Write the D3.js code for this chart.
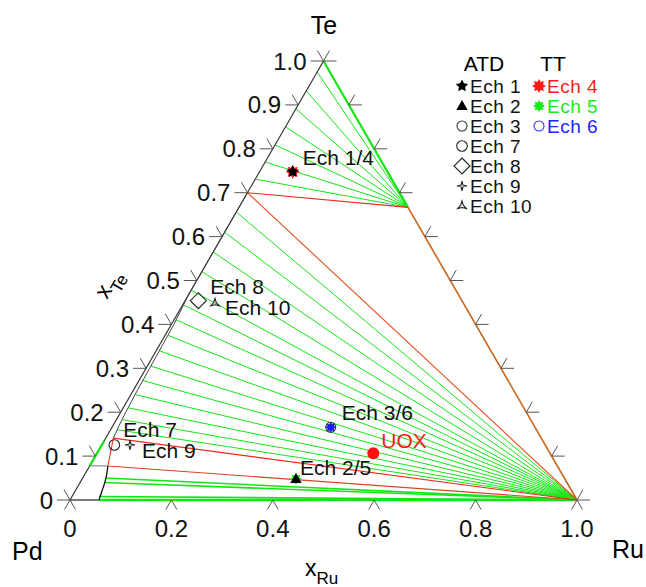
<!DOCTYPE html>
<html><head><meta charset="utf-8">
<script src="https://cdn.jsdelivr.net/npm/d3@7"></script>
<style>
body{margin:0;background:#fff}
svg{display:block}
text{font-family:"Liberation Sans",Arial,Helvetica,sans-serif}
</style>
</head><body>
<svg id="chart" width="646" height="587"></svg>
<script>
// ---------- data ----------
const leftTickValues = [0,0.1,0.2,0.3,0.4,0.5,0.6,0.7,0.8,0.9,1.0];
const leftTickLabels = ["0","0.1","0.2","0.3","0.4","0.5","0.6","0.7","0.8","0.9","1.0"];
const bottomTickValues = [0,0.2,0.4,0.6,0.8,1.0];
const bottomTickLabels = ["0","0.2","0.4","0.6","0.8","1.0"];

// key phase points [xRu, xTe]
const pointA  = [0, 0.70];
const pointB  = [1/3, 2/3];
const pointRu = [1, 0];
const pointTe = [0, 1];
const pointPd = [0, 0];
const pointL1 = [0.015, 0.141];
const pointP2 = [0.036, 0.0775];
const pointE  = [0, 0.078];

// liquid line (xRu, xTe)
const liquidRu = [0.015, 0.012, 0.010, 0.008, 0.007, 0.006, 0.005, 0.002, 0.0, 0.0];
const liquidTe = [0.141, 0.17, 0.20, 0.25, 0.30, 0.35, 0.40, 0.44, 0.47, 0.70];
// Pd solid solution boundary
const solidRu = [0.057, 0.053, 0.046, 0.036];
const solidTe = [0.0, 0.02, 0.05, 0.0775];

// tie lines RuTe2 -> Te-rich liquid (xTe on Pd-Te edge)
const upperTieTe = [0.731, 0.770, 0.809, 0.850, 0.891, 0.932, 0.975];
// tie lines Ru -> liquid
const lowerTieRu = [0.0, 0.0, 0.0, 0.0, 0.0, 0.003, 0.005, 0.006, 0.006, 0.007, 0.008, 0.009, 0.010, 0.012, 0.013];
const lowerTieTe = [0.656, 0.610, 0.565, 0.520, 0.478, 0.444, 0.410, 0.375, 0.340, 0.305, 0.272, 0.240, 0.210, 0.183, 0.160];
// tie lines Ru -> Pd solid solution
const ssTieRu = [0.057, 0.054, 0.047, 0.045];
const ssTieTe = [0.0, 0.008, 0.040, 0.050];

// samples
const sampleNames = ["Ech 1","Ech 4","Ech 2","Ech 5","Ech 3","Ech 6","Ech 7","Ech 8","Ech 9","Ech 10","UOX"];
const sampleRu = [0.0654, 0.0654, 0.4218, 0.4218, 0.4314, 0.4314, 0.0248, 0.0261, 0.0557, 0.062, 0.545];
const sampleTe = [0.7478, 0.7478, 0.0478, 0.0478, 0.1656, 0.1656, 0.1253, 0.454, 0.1253, 0.448, 0.1064];

// annotation labels
const labelTexts = ["Ech 1/4","Ech 2/5","Ech 3/6","Ech 7","Ech 8","Ech 9","Ech 10","UOX"];
const labelSample = ["Ech 1","Ech 2","Ech 3","Ech 7","Ech 8","Ech 9","Ech 10","UOX"];

// legend
const legendATD = ["Ech 1","Ech 2","Ech 3","Ech 7","Ech 8","Ech 9","Ech 10"];
const legendTT = ["Ech 4","Ech 5","Ech 6"];

// ---------- styles ----------
const GREEN = "#14e614", RED = "#f02a1a", ORANGE = "#e4501e", BROWN = "#c8661a", TICK = "#555";
const symbolStyle = {
  "Ech 1": {type:"star5", fill:"#000", stroke:"none", r:6.5},
  "Ech 4": {type:"burst", fill:"#ff1a1a", stroke:"none", r:7},
  "Ech 2": {type:"tri", fill:"#000", stroke:"none", r:6},
  "Ech 5": {type:"burst", fill:"#14ee14", stroke:"none", r:6},
  "Ech 3": {type:"circle", fill:"none", stroke:"#333", r:5},
  "Ech 6": {type:"circle", fill:"none", stroke:"#3333ff", r:5},
  "Ech 6b": {type:"burst", fill:"#1a1aff", stroke:"none", r:5.5},
  "Ech 7": {type:"circle", fill:"none", stroke:"#222", r:5.3},
  "Ech 8": {type:"diamond", fill:"none", stroke:"#222", r:8},
  "Ech 9": {type:"sparkle", fill:"none", stroke:"#222", r:5},
  "Ech 10": {type:"tri3", fill:"none", stroke:"#222", r:5},
  "UOX": {type:"circle", fill:"#ff1010", stroke:"none", r:6}
};
const labelOffsets = {
  "Ech 1/4":[10,-7], "Ech 2/5":[4,-4], "Ech 3/6":[11,-7], "Ech 7":[9,-8],
  "Ech 8":[12,-7], "Ech 9":[12,13], "Ech 10":[10,12], "UOX":[8,-5]
};

// ---------- scales ----------
const sx = d3.scaleLinear().domain([0,1]).range([70,577]);
const sy = d3.scaleLinear().domain([0,1]).range([500,61]);
const P = (ru, te) => [sx(ru + te/2), sy(te)];
const Pp = p => P(p[0], p[1]);

const svg = d3.select("#chart");
const g = svg.append("g");
const line = d3.line();

function seg(a, b, color, w){
  g.append("path").attr("d", line([Pp(a), Pp(b)]))
   .attr("stroke", color).attr("stroke-width", w).attr("fill","none");
}

// ---------- tie lines ----------
upperTieTe.forEach(t => seg(pointB, [0,t], GREEN, 1));
lowerTieTe.forEach((t,i) => seg(pointRu, [lowerTieRu[i], t], GREEN, 1));
ssTieTe.forEach((t,i) => seg(pointRu, [ssTieRu[i], t], GREEN, 1.6));

// ---------- phase boundaries ----------
seg(pointB, pointTe, GREEN, 2.2);
seg(pointRu, [solidRu[0], solidTe[0]], GREEN, 2.4);
seg(pointA, pointB, RED, 1.1);
seg(pointA, pointRu, ORANGE, 1.1);
seg(pointL1, pointRu, RED, 1.1);
seg(pointP2, pointRu, "#d8461e", 1.1);
seg(pointB, pointRu, BROWN, 1.6);
seg(pointL1, pointP2, "#f03020", 1.1);
seg(pointE, pointP2, "#777", 1.1);

seg(pointPd, pointTe, "#333", 1.2);
seg(pointPd, [solidRu[0], solidTe[0]], "#222", 1.2);
seg(pointE, [0,0.135], GREEN, 2.4);

g.append("path").attr("d", line(liquidRu.map((r,i)=>P(r, liquidTe[i]))))
  .attr("stroke","#444").attr("stroke-width",1).attr("fill","none");
g.append("path").attr("d", d3.line().curve(d3.curveMonotoneY)(solidRu.map((r,i)=>P(r, solidTe[i]))))
  .attr("stroke","#111").attr("stroke-width",1.3).attr("fill","none");

// ---------- ticks ----------
const L = 12;
const dirs = {
  left:[-1,0], right:[1,0], upLeft:[-0.5,-0.866], upRight:[0.5,-0.866],
  downLeft:[-0.5,0.866], downRight:[0.5,0.866]
};
function tick(p, d, len){
  g.append("line").attr("x1",p[0]).attr("y1",p[1])
   .attr("x2",p[0]+d[0]*len).attr("y2",p[1]+d[1]*len)
   .attr("stroke",TICK).attr("stroke-width",1);
}
leftTickValues.forEach(t => { const p = P(0,t); tick(p, dirs.left, L+1); tick(p, dirs.upLeft, L); });
leftTickValues.forEach(t => { const p = P(1-t,t); tick(p, dirs.right, L+1); tick(p, dirs.upRight, L); });
bottomTickValues.forEach(r => { const p = P(r,0); tick(p, dirs.downLeft, 11); tick(p, dirs.downRight, 11); });

leftTickValues.forEach((t,i) => {
  const p = P(0,t);
  g.append("text").attr("x", p[0]-17).attr("y", p[1]+8.5)
   .attr("text-anchor","end").attr("font-size",24).attr("fill","#111").text(leftTickLabels[i]);
});
bottomTickValues.forEach((r,i) => {
  const p = P(r,0);
  g.append("text").attr("x", p[0]).attr("y", p[1]+37)
   .attr("text-anchor","middle").attr("font-size",24).attr("fill","#111").text(bottomTickLabels[i]);
});

g.append("text").attr("x",324).attr("y",34).attr("text-anchor","middle").attr("font-size",25).text("Te");
g.append("text").attr("x",12).attr("y",560).attr("font-size",25).text("Pd");
g.append("text").attr("x",612).attr("y",558).attr("font-size",25).text("Ru");
const xr = g.append("text").attr("x",305).attr("y",576).attr("font-size",23);
xr.append("tspan").text("x");
xr.append("tspan").attr("font-size",17).attr("dy",8).text("Ru");
const xt = g.append("text").attr("transform","translate(107,300) rotate(-60)").attr("font-size",23);
xt.append("tspan").text("x");
xt.append("tspan").attr("font-size",17).attr("dy",8).text("Te");

// ---------- symbols ----------
function starPath(r, n, inner){
  const pts=[];
  for(let k=0;k<2*n;k++){ const a=Math.PI*k/n - Math.PI/2; const rr = k%2? r*inner : r; pts.push([rr*Math.cos(a), rr*Math.sin(a)]); }
  return "M"+pts.map(p=>p.join(",")).join("L")+"Z";
}
function drawSymbol(parent, name, x, y){
  const s = symbolStyle[name];
  let d;
  switch(s.type){
    case "circle": parent.append("circle").attr("cx",x).attr("cy",y).attr("r",s.r)
        .attr("fill",s.fill).attr("stroke",s.stroke).attr("stroke-width",1.1); return;
    case "star5": d = starPath(s.r,5,0.5); break;
    case "burst": d = starPath(s.r,8,0.62); break;
    case "tri": d = `M0,${-s.r}L${s.r*0.95},${s.r*0.65}L${-s.r*0.95},${s.r*0.65}Z`; break;
    case "diamond": d = `M0,${-s.r}L${s.r},0L0,${s.r}L${-s.r},0Z`; break;
    case "sparkle": d = starPath(s.r,4,0.25); break;
    case "tri3": d = starPath(s.r,3,0.3); break;
  }
  parent.append("path").attr("d",d).attr("transform",`translate(${x},${y})`)
    .attr("fill",s.fill).attr("stroke",s.stroke).attr("stroke-width",1.1);
}
const pos = {};
sampleNames.forEach((n,i) => pos[n] = P(sampleRu[i], sampleTe[i]));
const drawOrder = ["Ech 4","Ech 1","Ech 5","Ech 2","Ech 6b","Ech 3","Ech 7","Ech 8","Ech 9","Ech 10","UOX"];
drawOrder.forEach(n => {
  const key = n === "Ech 6b" ? "Ech 6" : n;
  const p = pos[key];
  drawSymbol(g, n, p[0], p[1]);
});

labelTexts.forEach((t,i) => {
  const p = pos[labelSample[i]]; const o = labelOffsets[t];
  g.append("text").attr("x",p[0]+o[0]).attr("y",p[1]+o[1]).attr("font-size",21)
   .attr("fill", t==="UOX" ? "#ff1a1a" : "#111").text(t);
});

// ---------- legend ----------
g.append("text").attr("x",484).attr("y",71).attr("text-anchor","middle").attr("font-size",21).text("ATD");
g.append("text").attr("x",553).attr("y",71).attr("text-anchor","middle").attr("font-size",21).text("TT");
legendATD.forEach((n,i) => {
  const y = 92.5 + i*20;
  drawSymbol(g, n, 462, y-6.5);
  g.append("text").attr("x",470).attr("y",y).attr("font-size",19).attr("letter-spacing",0.5).attr("fill","#111").text(n);
});
const ttColors = {"Ech 4":"#ff1a1a","Ech 5":"#14ee14","Ech 6":"#2222ff"};
legendTT.forEach((n,i) => {
  const y = 92.5 + i*20;
  drawSymbol(g, n, 539, y-6.5);
  g.append("text").attr("x",547).attr("y",y).attr("font-size",19).attr("letter-spacing",0.5).attr("fill",ttColors[n]).text(n);
});
</script>
</body></html>
